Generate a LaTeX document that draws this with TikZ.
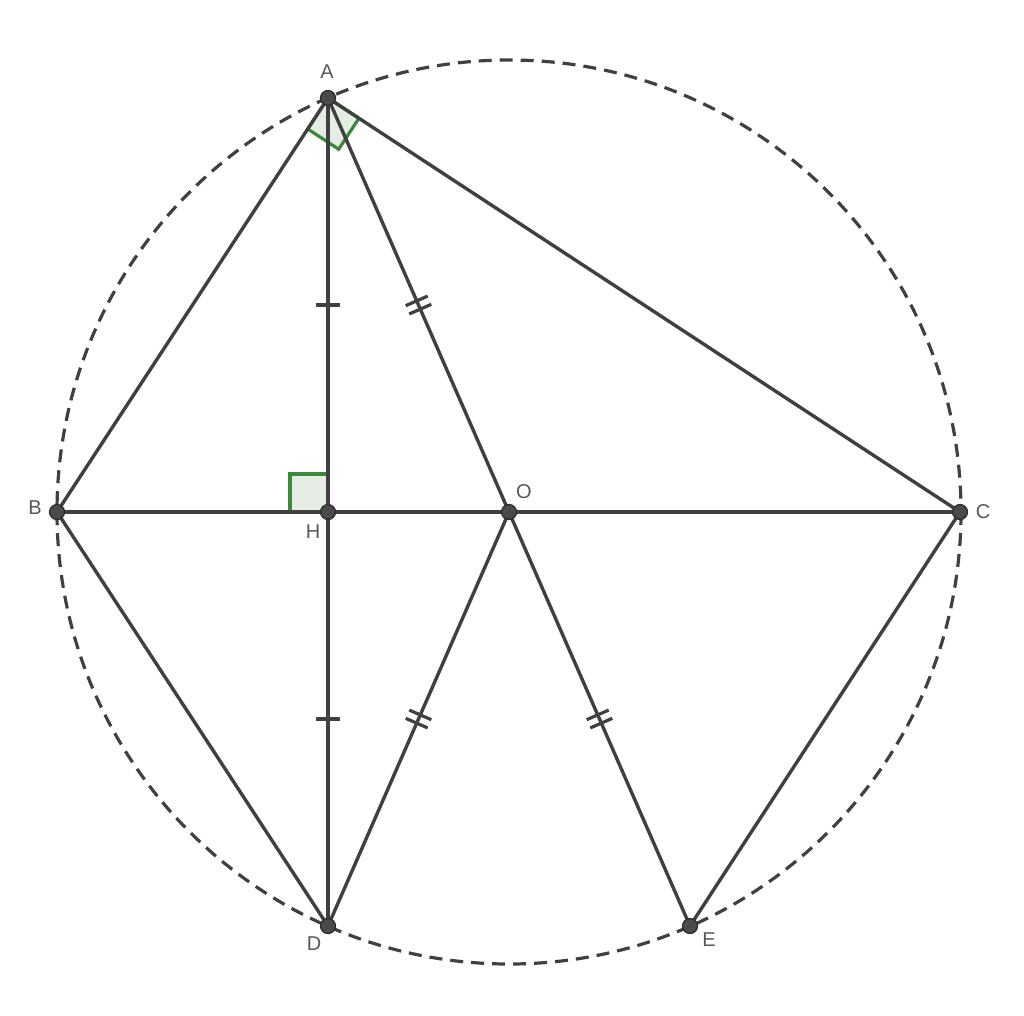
\documentclass[tikz,border=0pt]{standalone}
\usepackage{fontspec}
\setmainfont{Liberation Sans}
\usetikzlibrary{calc}
\definecolor{ln}{HTML}{404040}
\definecolor{lbl}{HTML}{585858}
\definecolor{grn}{HTML}{3A8A3A}
\definecolor{fillg}{HTML}{E4ECE4}
\definecolor{ptfill}{HTML}{4A4A4A}
\definecolor{ptdraw}{HTML}{2A2A2A}
\begin{document}
\begin{tikzpicture}[x=1pt,y=-1pt,
  seg/.style={draw=ln,line width=3.4pt},
  tickmark/.style={draw=ln,line width=3.2pt},
  circdash/.style={draw=ln,line width=3.2pt,dash pattern=on 13pt off 8pt},
  rightmark/.style={draw=grn,fill=fillg,line width=3.2pt,line join=miter},
  pt/.style={circle,fill=ptfill,draw=ptdraw,line width=1.2pt,minimum size=15pt,inner sep=0pt},
  lab/.style={text=lbl,font=\fontsize{20}{20}\selectfont,inner sep=0pt}]
\useasboundingbox (0,0) rectangle (1024,1015);
\coordinate (A) at (328,98);
\coordinate (B) at (57,512);
\coordinate (C) at (960,512);
\coordinate (O) at (509,512);
\coordinate (H) at (328,512);
\coordinate (D) at (328,926);
\coordinate (E) at (690,926);
% circumcircle
\draw[circdash] (O) circle (452);
% right angle marks
\draw[rightmark] (A) -- ($(A)!37pt!(B)$) -- ($($(A)!37pt!(B)$)+($(A)!37pt!(C)$)-(A)$) -- ($(A)!37pt!(C)$) -- cycle;
\draw[rightmark] (H) -- (290,512) -- (290,474) -- (328,474) -- cycle;
% segments
\draw[seg] (A) -- (B);
\draw[seg] (A) -- (C);
\draw[seg] (B) -- (C);
\draw[seg] (A) -- (D);
\draw[seg] (A) -- (O);
\draw[seg] (B) -- (D);
\draw[seg] (D) -- (O);
\draw[seg] (O) -- (E);
\draw[seg] (E) -- (C);
% single ticks
\foreach \p/\q in {A/H,H/D}{
  \draw[tickmark] ($($(\p)!0.5!(\q)$)!12pt!90:(\q)$) -- ($($(\p)!0.5!(\q)$)!12pt!-90:(\q)$);
}
% double ticks
\foreach \p/\q in {A/O,O/D,O/E}{
  \foreach \s in {-4.5,4.5}{
    \draw[tickmark] ($($($(\p)!0.5!(\q)$)!\s pt!(\q)$)!12pt!90:(\q)$) -- ($($($(\p)!0.5!(\q)$)!\s pt!(\q)$)!12pt!-90:(\q)$);
  }
}
% points
\node[pt] (pA) at (A) {};
\node[pt] (pB) at (B) {};
\node[pt] (pC) at (C) {};
\node[pt] (pO) at (O) {};
\node[pt] (pH) at (H) {};
\node[pt] (pD) at (D) {};
\node[pt] (pE) at (E) {};
% labels
\node[lab] (lA) at (327,72) {A};
\node[lab] (lB) at (35,508) {B};
\node[lab] (lC) at (983,512) {C};
\node[lab] (lO) at (524,492) {O};
\node[lab] (lH) at (313,532) {H};
\node[lab] (lD) at (314,944) {D};
\node[lab] (lE) at (709,940) {E};
\end{tikzpicture}
\end{document}
